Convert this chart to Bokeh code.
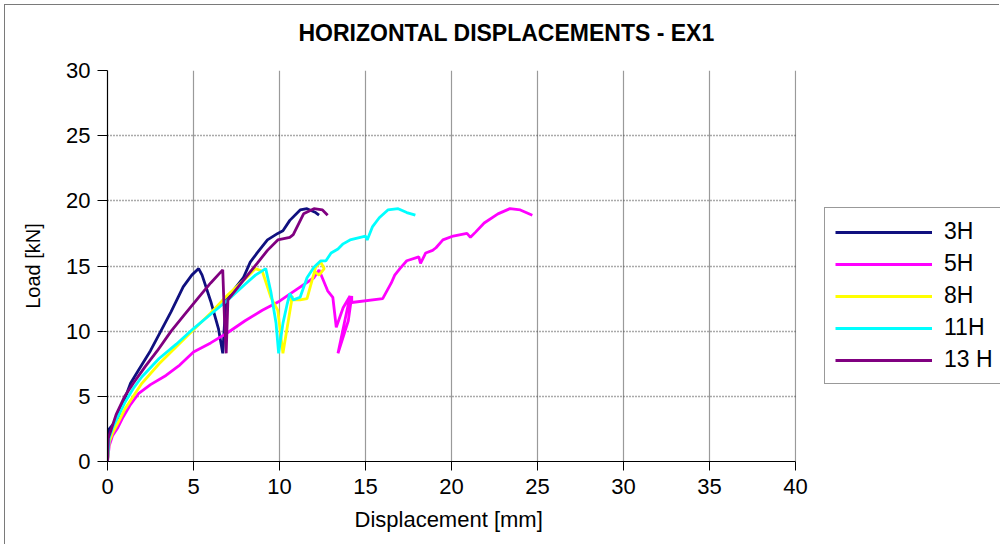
from bokeh.plotting import figure
from bokeh.models import Legend, LegendItem, FixedTicker, Range1d, BoxAnnotation, Title
from bokeh.embed import file_html
from bokeh.resources import INLINE

# ---------------- data ----------------
series_names = ["3H", "5H", "8H", "11H", "13 H"]
series_colors = ["#10107f", "#ff00ff", "#ffff00", "#00ffff", "#800080"]

x_3h = [0, 0.05, 0.1, 0.3, 0.6, 1.0, 1.34, 1.8, 2.5, 3.1, 3.7, 4.4, 4.9, 5.3, 5.5, 6.0, 6.45, 6.7, 6.8, 6.9,
        7.3, 7.9, 8.3, 8.7, 9.3, 9.9, 10.2, 10.6, 11.2, 11.6, 12.1, 12.3]
y_3h = [0, 1.5, 2.5, 2.8, 3.4, 4.8, 6.0, 7.0, 8.5, 10.0, 11.5, 13.4, 14.3, 14.8, 14.3, 12.3, 10.2, 8.3, 10.5, 12.4,
        13.1, 14.1, 15.3, 16.0, 17.0, 17.5, 17.7, 18.5, 19.3, 19.4, 19.1, 18.9]

x_5h = [0, 0.1, 0.3, 0.6, 0.9, 1.3, 1.8, 2.5, 3.4, 4.2, 5.0, 6.0, 7.0, 8.0, 9.0, 10.0, 11.0, 12.0, 12.3, 12.8,
        13.1, 13.3, 13.7, 14.1, 13.4, 14.0, 14.2, 14.2, 16.0, 16.5, 16.7, 17.0, 17.4, 18.1, 18.2, 18.5, 18.9,
        19.1, 19.5, 20.1, 20.9, 21.1, 21.4, 21.9, 22.7, 23.4, 24.0, 24.7]
y_5h = [0, 1.2, 2.0, 2.6, 3.4, 4.3, 5.2, 5.9, 6.6, 7.4, 8.4, 9.1, 9.9, 10.8, 11.6, 12.3, 13.2, 14.1, 14.7, 13.1,
        12.6, 10.3, 11.8, 12.7, 8.3, 10.8, 12.7, 12.2, 12.5, 13.7, 14.3, 14.8, 15.4, 15.7, 15.2, 16.0, 16.2,
        16.4, 17.0, 17.3, 17.5, 17.2, 17.6, 18.3, 19.0, 19.4, 19.3, 18.9]

x_8h = [0, 0.1, 0.3, 0.7, 1.0, 1.5, 2.0, 3.0, 4.0, 5.0, 6.0, 7.0, 8.0, 8.6, 9.0, 9.5, 9.9, 10.2, 10.75, 10.6,
        11.2, 11.6, 12.1, 12.4, 12.6, 12.3, 12.0]
y_8h = [0, 1.5, 2.2, 3.2, 4.0, 5.0, 6.0, 7.5, 8.8, 10.1, 11.4, 12.8, 14.0, 14.8, 14.6, 12.6, 11.6, 8.3, 12.7, 12.4,
        12.4, 12.5, 14.9, 15.3, 14.8, 14.3, 14.6]

x_11h = [0, 0.1, 0.3, 0.7, 1.0, 1.5, 2.0, 3.0, 4.0, 5.0, 6.0, 7.0, 8.0, 8.6, 9.2, 9.5, 9.8, 9.95, 10.2, 10.45,
         10.6, 10.8, 11.2, 11.6, 12.0, 12.4, 12.7, 13.0, 13.4, 13.7, 14.1, 14.7, 15.0, 15.1, 15.4, 15.8, 16.3,
         16.9, 17.4, 17.9]
y_11h = [0, 1.8, 2.6, 3.7, 4.5, 5.6, 6.5, 7.9, 9.0, 10.2, 11.3, 12.4, 13.6, 14.3, 14.8, 13.0, 10.6, 8.3, 10.6, 12.1,
         12.9, 12.4, 12.6, 14.1, 14.9, 15.4, 15.4, 16.0, 16.3, 16.7, 17.0, 17.2, 17.3, 17.0, 18.0, 18.7, 19.3,
         19.4, 19.1, 18.9]

x_13h = [0, 0.05, 0.2, 0.5, 1.0, 1.5, 2.2, 2.9, 3.7, 4.5, 5.3, 6.0, 6.7, 6.8, 6.9, 7.0, 7.3, 7.9, 8.7, 9.3, 9.9,
         10.6, 10.8, 11.4, 12.0, 12.5, 12.8]
y_13h = [0, 1.8, 2.4, 3.6, 5.0, 6.0, 7.3, 8.5, 10.0, 11.3, 12.6, 13.7, 14.7, 11.0, 8.3, 12.4, 12.9, 13.9, 15.2,
         16.2, 17.0, 17.2, 17.4, 19.0, 19.4, 19.3, 18.9]

x_ticks = [0, 5, 10, 15, 20, 25, 30, 35, 40]
y_ticks = [0, 5, 10, 15, 20, 25, 30]
X_MAX = 40
Y_MAX = 30

series_x = [x_3h, x_5h, x_8h, x_11h, x_13h]
series_y = [y_3h, y_5h, y_8h, y_11h, y_13h]

FONT = "Liberation Sans"

# layout: plot area 688 px wide for 0..40; the frame is extended to the right
# so that the legend (which sits right of the plot area) can live inside it.
FIG_W, FIG_H = 995, 540
BORDER_L, BORDER_R = 102, 0
AREA_W = 688
frame_w = FIG_W - BORDER_L - BORDER_R
x_view_end = X_MAX * frame_w / AREA_W

p = figure(width=FIG_W, height=FIG_H, output_backend="svg", toolbar_location=None,
           x_range=Range1d(0, x_view_end), y_range=Range1d(0, Y_MAX),
           min_border_left=BORDER_L, min_border_right=BORDER_R, min_border_top=65, min_border_bottom=84)
p.styles = {"border-left": "1px solid #7a7a7a", "border-top": "1px solid #7a7a7a",
            "margin-left": "4px", "margin-top": "4px"}

# spacer between the plot area and the title (lifts the title up)
spacer = Title(text=" ", text_font_size="10px", standoff=11, text_color="white")
p.add_layout(spacer, "above")

p.title.text = "HORIZONTAL DISPLACEMENTS - EX1"
p.title.text_font = FONT
p.title.text_font_size = "23px"
p.title.text_font_style = "bold"
p.title.text_color = "black"
p.title.align = "left"
p.title.offset = 191
p.title.standoff = 1
p.outline_line_color = None

renderers = []
for xs, ys, c in zip(series_x, series_y, series_colors):
    r = p.line(xs, ys, line_color=c, line_width=2.8)
    renderers.append(r)

# axes
for ax in (p.xaxis[0], p.yaxis[0]):
    ax.axis_line_color = "black"
    ax.axis_line_width = 1.2
    ax.major_tick_line_color = "black"
    ax.major_tick_in = 0
    ax.minor_tick_line_color = None
    ax.major_label_text_font = FONT
    ax.major_label_text_font_size = "22px"
    ax.major_label_text_color = "black"
    ax.axis_label_text_font = FONT
    ax.axis_label_text_font_style = "normal"
    ax.axis_label_text_color = "black"

p.xaxis.bounds = (0, X_MAX)
p.xaxis.ticker = FixedTicker(ticks=x_ticks)
p.yaxis.ticker = FixedTicker(ticks=y_ticks)
p.xaxis.major_tick_out = 9
p.yaxis.major_tick_out = 10
p.xaxis.major_label_standoff = 8
p.yaxis.major_label_standoff = 7
p.yaxis.axis_label = "Load [kN]"
p.yaxis.axis_label_text_font_size = "20px"
p.yaxis.axis_label_standoff = 19

# x axis title, centred under the 0..40 plot area
xlabel = Title(text="Displacement [mm]", align="left", offset=247, standoff=16,
               text_font=FONT, text_font_size="22px", text_font_style="normal", text_color="black")
p.add_layout(xlabel, "below")

p.xgrid.grid_line_color = "#9a9a9a"
p.xgrid.grid_line_width = 1.2
p.ygrid.grid_line_color = "#555555"
p.ygrid.grid_line_width = 1.5
p.ygrid.grid_line_dash = "1 2"

# blank out the extension of the frame right of the plot area
mask = BoxAnnotation(left=X_MAX + 0.06, fill_color="white", fill_alpha=1.0, line_color=None)
p.add_layout(mask)

items = [LegendItem(label=n, renderers=[r]) for n, r in zip(series_names, renderers)]
legend = Legend(items=items, location=(717, 77))
legend.label_text_font = FONT
legend.label_text_font_size = "23px"
legend.label_text_color = "black"
legend.glyph_width = 97
legend.glyph_height = 24
legend.label_height = 24
legend.spacing = 5
legend.padding = 10
legend.margin = 0
legend.label_standoff = 12
legend.border_line_color = "#333333"
legend.border_line_width = 1
legend.background_fill_alpha = 1
p.add_layout(legend, "center")

open("out.html", "w").write(file_html(p, INLINE))
